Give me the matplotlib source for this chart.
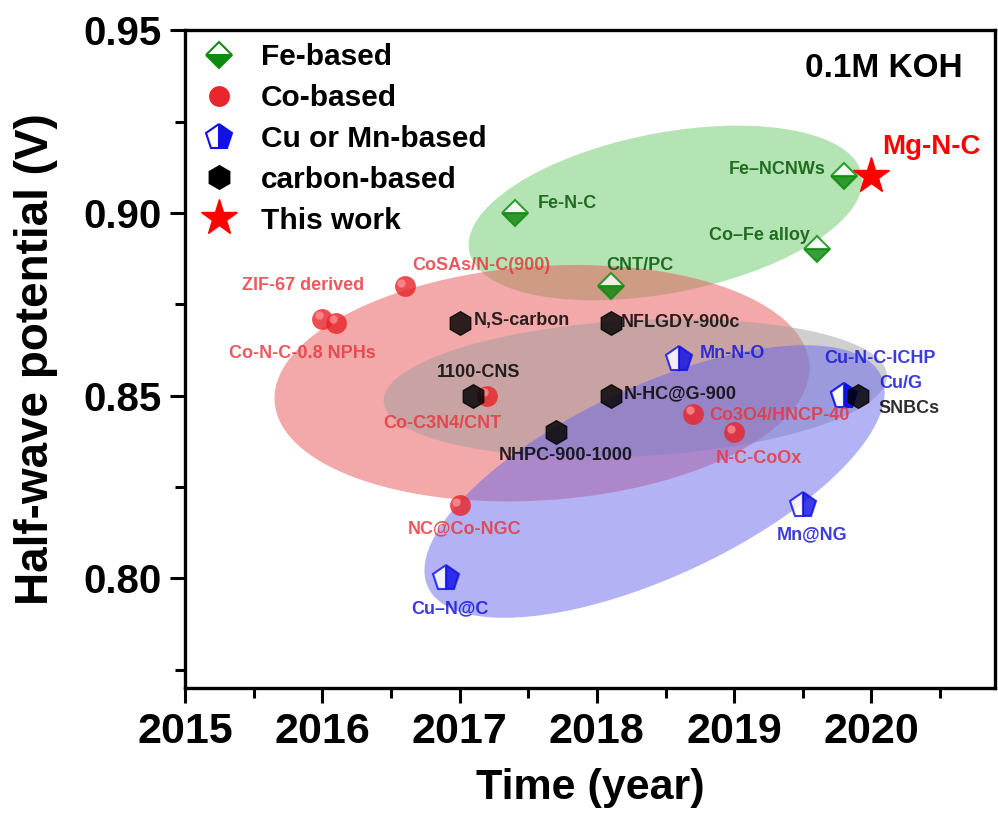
import numpy as np
import matplotlib
matplotlib.use("Agg")
import matplotlib.pyplot as plt
from matplotlib.patches import Polygon
from matplotlib.transforms import ScaledTranslation

plt.rcParams['font.family'] = ['Liberation Sans', 'DejaVu Sans']
plt.rcParams['font.weight'] = 'bold'

# ---- data ----
fe_year = [2017.4, 2018.1, 2019.6, 2019.8]
fe_e = [0.90, 0.88, 0.89, 0.91]
fe_names = ['Fe-N-C', 'CNT/PC', 'Co\u2013Fe alloy', 'Fe\u2013NCNWs']

co_year = [2016.0, 2016.6, 2016.1, 2017.2, 2018.7, 2019.0, 2017.0]
co_e = [0.871, 0.880, 0.870, 0.850, 0.845, 0.840, 0.820]
co_names = ['ZIF-67 derived', 'CoSAs/N-C(900)', 'Co-N-C-0.8 NPHs', 'Co-C3N4/CNT',
            'Co3O4/HNCP-40', 'N-C-CoOx', 'NC@Co-NGC']

cumn_year = [2018.6, 2019.8, 2019.8, 2019.5, 2016.9]
cumn_e = [0.860, 0.850, 0.850, 0.820, 0.800]
cumn_names = ['Mn-N-O', 'Cu-N-C-ICHP', 'Cu/G', 'Mn@NG', 'Cu\u2013N@C']

c_year = [2017.0, 2018.1, 2017.1, 2018.1, 2017.7, 2019.9]
c_e = [0.870, 0.870, 0.850, 0.850, 0.840, 0.850]
c_names = ['N,S-carbon', 'NFLGDY-900c', '1100-CNS', 'N-HC@G-900', 'NHPC-900-1000', 'SNBCs']

this_year = [2020.0]
this_e = [0.910]
this_names = ['Mg-N-C']

# label offsets (points) for each label, same order as names
fe_off = [(38, 7), (21, 15), (-41, 10), (-48, 5)]
co_off = [(-14, 24), (55, 15), (-24, -22), (-32, -20), (62, -1.5), (18, -19), (3.5, -17)]
cumn_off = [(38, 4), (26, 27), (41, 9), (7, -21), (3, -22)]
c_off = [(45, 1.5), (50, 0), (4, 17), (50, 1.5), (7, -17), (37, -9)]

# ellipses: centre (year, V), semi-axes in pixels, angle in degrees
ell_center = [(2018.50, 0.900), (2017.60, 0.8534), (2018.28, 0.852), (2018.42, 0.8265)]
ell_axes = [(200, 80), (268, 117), (252, 68), (250, 95)]
ell_angle = [11, 4, 3, 25]
ell_color = ['#6bcb6b', '#e95355', '#a0a0a0', '#6767eb']

fig = plt.figure(figsize=(9.98, 8.18), dpi=100)
ax = fig.add_axes([0.1854, 0.159, 0.8116, 0.804])
ax.set_xlim(2015, 2020.9)
ax.set_ylim(0.77, 0.95)

green = '#0e8a0e'
red = '#e8262c'
blue = '#1010e8'
mk_alpha = 0.82

ax.plot(fe_year, fe_e, 'D', ls='none', ms=13, mec=green, mfc=green, mfcalt='white',
        fillstyle='bottom', mew=1.5, label='Fe-based', zorder=3, alpha=mk_alpha)
ax.plot(co_year, co_e, 'o', ls='none', ms=15, mec='none', mfc=red, label='Co-based',
        zorder=3, alpha=mk_alpha)
hl = ScaledTranslation(-2.5 / 72, 2.5 / 72, fig.dpi_scale_trans)
ax.plot(co_year, co_e, 'o', ls='none', ms=6, mec='none', mfc='#ff9a9a', alpha=0.7,
        transform=ax.transData + hl, zorder=3)
ax.plot(cumn_year, cumn_e, 'p', ls='none', ms=19, mec=blue, mfc=blue, mfcalt='white',
        fillstyle='right', mew=1.5, label='Cu or Mn-based', zorder=3, alpha=mk_alpha)
ax.plot(c_year, c_e, 'h', ls='none', ms=17, mec='black', mfc='black', label='carbon-based',
        zorder=3, alpha=mk_alpha)
ax.plot(this_year, this_e, '*', ls='none', ms=27, mec='red', mfc='red', label='This work', zorder=3)


def put_labels(xs, ys, names, offs, color, size=13, alpha=mk_alpha):
    for x, y, n, o in zip(xs, ys, names, offs):
        ax.annotate(n, (x, y), xytext=o, textcoords='offset points', ha='center',
                    va='center', color=color, fontsize=size, fontweight='bold', zorder=3,
                    alpha=alpha)


put_labels(fe_year, fe_e, fe_names, fe_off, '#005200')
put_labels(co_year, co_e, co_names, co_off, '#e8343a')
put_labels(cumn_year, cumn_e, cumn_names, cumn_off, '#1212d8')
put_labels(c_year, c_e, c_names, c_off, 'black')
put_labels(this_year, this_e, this_names, [(43, 21)], 'red', size=20, alpha=1)

# translucent ellipses behind the markers
fig.canvas.draw()
t = np.linspace(0, 2 * np.pi, 200)
for (cx, cy), (a, b), ang, col in zip(ell_center, ell_axes, ell_angle, ell_color):
    px, py = ax.transData.transform((cx, cy))
    r = np.deg2rad(ang)
    ex = a * np.cos(t) * np.cos(r) - b * np.sin(t) * np.sin(r) + px
    ey = a * np.cos(t) * np.sin(r) + b * np.sin(t) * np.cos(r) + py
    pts = ax.transData.inverted().transform(np.column_stack([ex, ey]))
    ax.add_patch(Polygon(pts, closed=True, fc=col, ec='none', alpha=0.5, zorder=1))

ax.text(0.96, 0.942, '0.1M KOH', transform=ax.transAxes, ha='right', va='center',
        fontsize=24, fontweight='bold')

leg = ax.legend(loc='upper left', bbox_to_anchor=(-0.021, 1.012), frameon=False, fontsize=21.5,
                handletextpad=0.4, labelspacing=0.43, borderaxespad=0.3, numpoints=1)
leg.set_zorder(6)
for h in leg.legend_handles:
    h.set_alpha(1)

ax.set_xticks([2015, 2016, 2017, 2018, 2019, 2020])
ax.set_xticks(np.arange(2015.5, 2021, 1.0), minor=True)
ax.set_yticks([0.80, 0.85, 0.90, 0.95])
ax.set_yticks([0.775, 0.825, 0.875, 0.925], minor=True)
ax.set_yticklabels(['0.80', '0.85', '0.90', '0.95'])
ax.tick_params(which='major', direction='out', length=11, width=2.2, labelsize=29, pad=6)
ax.tick_params(axis='x', which='major', labelsize=31)
ax.tick_params(which='minor', direction='out', length=7, width=2.2)
for lab in ax.get_xticklabels() + ax.get_yticklabels():
    lab.set_fontweight('bold')
for s in ax.spines.values():
    s.set_linewidth(2.4)

ax.set_xlabel('Time (year)', fontsize=31, fontweight='bold', labelpad=12)
ax.set_ylabel('Half-wave potential (V)', fontsize=33, fontweight='bold', labelpad=18)

fig.savefig('out.png', dpi=100)
